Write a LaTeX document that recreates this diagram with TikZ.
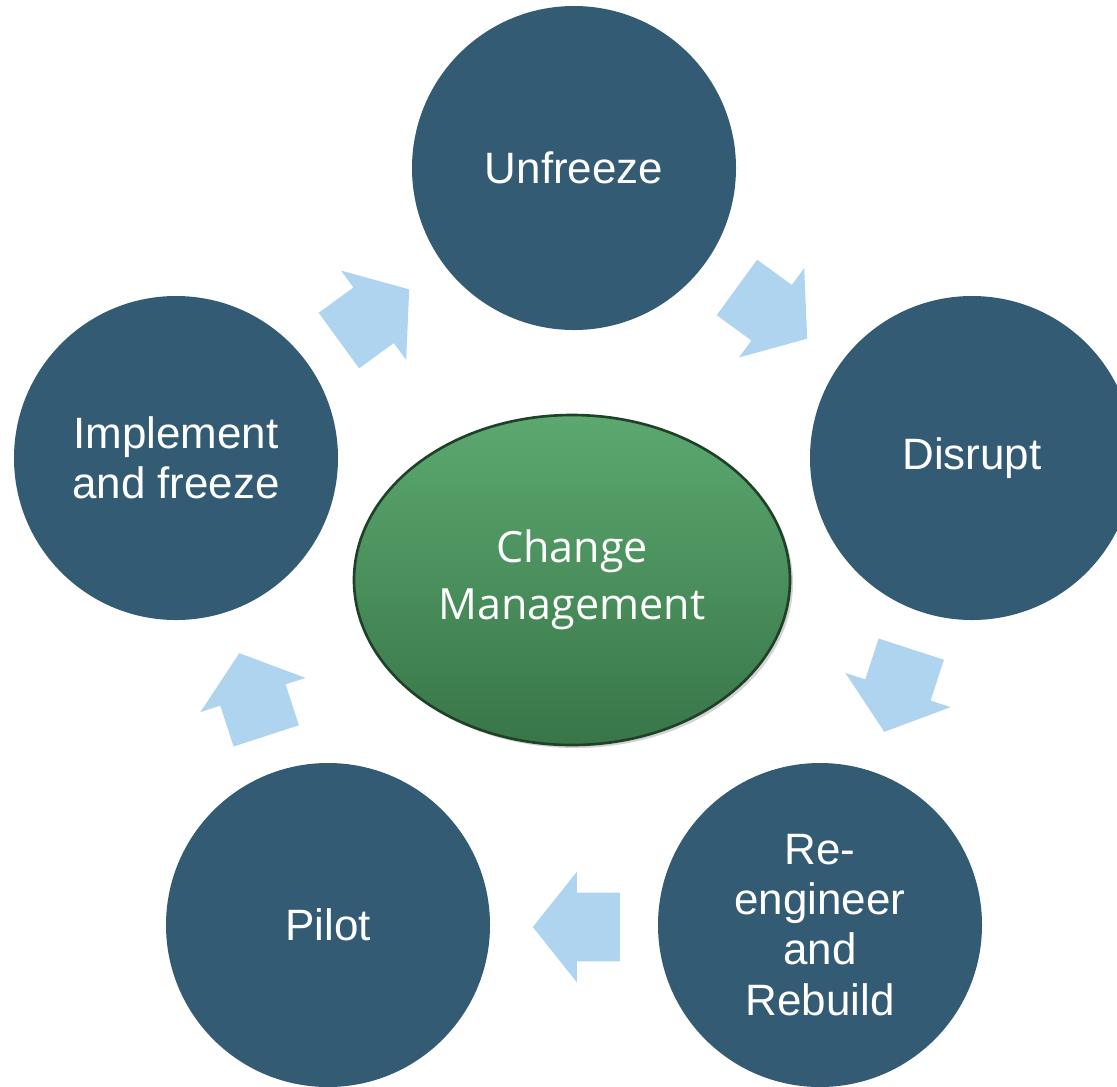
\documentclass[tikz,border=0pt]{standalone}
\usepackage{fontspec}
\setmainfont{Liberation Sans}
\newfontfamily\hubfont{Open Sans}
\usetikzlibrary{shapes.geometric}
\usetikzlibrary{shapes.arrows}
\usetikzlibrary{shadows}
\usetikzlibrary{calc}
\usetikzlibrary{positioning}
\definecolor{stageblue}{RGB}{52,91,116}
\definecolor{flowblue}{RGB}{174,212,239}
\definecolor{hubtop}{RGB}{92,168,112}
\definecolor{hubbottom}{RGB}{56,118,72}

\tikzset{
  stage/.style={circle, fill=stageblue, minimum size=64.8mm, inner sep=0pt,
    text=white, align=center, font=\fontsize{25}{28.5}\selectfont},
  flowarrow/.style={single arrow, fill=flowblue, inner xsep=0pt, inner ysep=6.8mm,
    text height=0pt, text depth=0pt, text width=0pt,
    minimum height=17.4mm, minimum width=0pt,
    single arrow head extend=4.2mm, single arrow tip angle=103,
    sloped, allow upside down},
  hub/.style={ellipse, minimum width=87.2mm, minimum height=66mm,
    top color=hubtop, bottom color=hubbottom, draw=hubbottom!55!black,
    line width=1.5pt, drop shadow={opacity=0.35, shadow xshift=0.6mm, shadow yshift=-0.6mm},
    text=white, align=center, font=\hubfont\fontsize{24.5}{32.4}\selectfont}
}

\begin{document}
\begin{tikzpicture}[x=0.2mm, y=-0.2mm]
  \useasboundingbox (0,0) rectangle (1117,1086);

  % the five stages of the cycle
  \node[stage] (unfreeze) at (574,168) {Unfreeze};
  \node[stage] (disrupt)  at (972,458) {Disrupt};
  \node[stage] (rebuild)  at (820,925) {Re-\\engineer\\and\\Rebuild};
  \node[stage] (pilot)    at (328,925) {Pilot};
  \node[stage] (freeze)   at (176,458) {Implement\\and freeze};

  % centre
  \node[hub] (change) at (572,580) {Change\\Management};

  % block arrows between the stages (small offsets by eye)
  \foreach \from/\to/\dx/\dy in {unfreeze/disrupt/-12/-8, disrupt/rebuild/6/-14,
      rebuild/pilot/16/2, pilot/freeze/5/16, freeze/unfreeze/-12/10}
    \path ($(\from)+(\dx,\dy)$) -- node[flowarrow] {} ($(\to)+(\dx,\dy)$);
\end{tikzpicture}
\end{document}
